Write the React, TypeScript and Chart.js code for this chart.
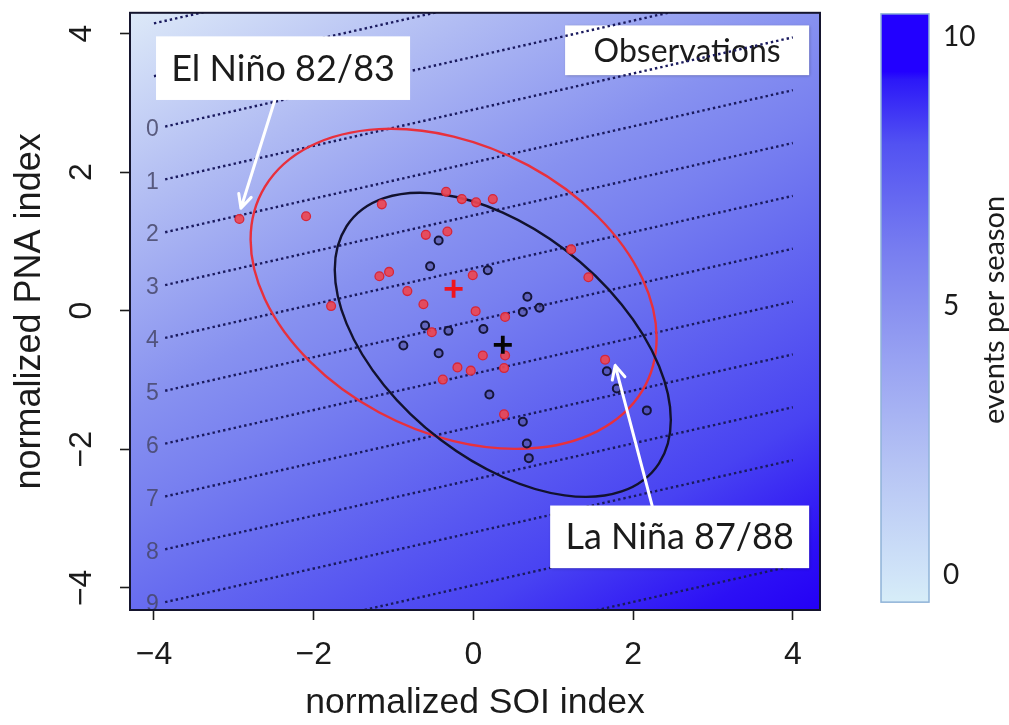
import React, { useEffect, useRef } from "react";
import { Chart, registerables } from "chart.js";

Chart.register(...registerables);

// ---------- axes ----------
const soiRange = [-4.3, 4.34];
const pnaRange = [-4.32, 4.3];
const soiTicks = [-4, -2, 0, 2, 4];
const soiTickLabels = ["−4", "−2", "0", "2", "4"];
const pnaTicks = [-4, -2, 0, 2, 4];
const pnaTickLabels = ["−4", "−2", "0", "2", "4"];
const soiTitle = "normalized SOI index";
const pnaTitle = "normalized PNA index";

// ---------- observed seasons (red group) ----------
const redSOI = [-2.93, -2.095, -1.147, -0.342, -0.145, 0.034, 0.243, -0.596, -0.326, -1.177, -1.056, -0.827, -0.626, -1.782, -0.008, 1.224, 1.44, 0.028, 0.397, -0.521, 0.118, 0.397, -0.2, -0.033, 0.384, -0.383, 0.384, 1.649];
const redPNA = [1.324, 1.363, 1.535, 1.717, 1.611, 1.564, 1.611, 1.095, 1.143, 0.498, 0.56, 0.283, 0.093, 0.067, 0.512, 0.885, 0.483, -0.007, -0.09, -0.311, -0.646, -0.646, -0.818, -0.865, -0.828, -0.994, -1.496, -0.707];

// ---------- observed seasons (black group) ----------
const blackSOI = [-0.435, -0.542, 0.18, 0.676, 0.827, 0.619, 0.125, -0.605, -0.313, -0.877, -0.435, 0.2, 0.619, 0.669, 0.694, 1.671, 1.796, 2.172];
const blackPNA = [1.014, 0.641, 0.584, 0.201, 0.043, -0.019, -0.265, -0.215, -0.291, -0.502, -0.613, -1.209, -1.603, -1.918, -2.128, -0.875, -1.123, -1.439];

// ---------- group means and spread ellipses ----------
const redMean = { soi: -0.248, pna: 0.316 };
const blackMean = { soi: 0.368, pna: -0.492 };
const redEllipse = { sdSOI: 2.542, sdPNA: 2.31, rho: -0.308 };
const blackEllipse = { sdSOI: 2.104, sdPNA: 2.195, rho: -0.494 };

// ---------- contour field: events per season ----------
const rateModel = { intercept: 4.805, soi: 0.342, pna: -1.311 };
const contourLevels = [-2, -1, 0, 1, 2, 3, 4, 5, 6, 7, 8, 9, 10, 11];
const labelledLevels = [0, 1, 2, 3, 4, 5, 6, 7, 8, 9];
const contourSoiStart = -4.0;
const contourSoiEnd = 4.0;
const labelledLineStart = -3.86;
const contourLabelSoi = -4.02;

// ---------- colour bar ----------
const colorbarTitle = "events per season";
const colorbarRange = [-0.646, 10.44];
const colorbarSpan = [-0.5, 10.42];
const colorbarTicks = [0, 5, 10];
const colorbarTickLabels = ["0", "5", "10"];
const colorbarLevels = [-0.6, 0, 2, 4, 5, 6, 8, 9.2, 9.35, 10.44];
const colorbarColors = ["#d8eff8", "#d0e4f8", "#b6c4f4", "#98a2f2", "#8890f0", "#787ef0", "#5252f2", "#2c18f8", "#2200ff", "#2200ff"];

// ---------- annotations ----------
const elNinoText = "El Niño 82/83";
const laNinaText = "La Niña 87/88";
const obsText = "Observations";
const elNinoBox = { soi: [-3.974, -0.793], pna: [3.96, 3.042] };
const obsBox = { soi: [1.148, 4.204], pna: [4.118, 3.4] };
const laNinaBox = { soi: [0.961, 4.204], pna: [-2.812, -3.716] };
const elNinoArrow = { from: [-2.486, 3.042], to: [-2.911, 1.478] };
const laNinaArrow = { from: [2.238, -2.812], to: [1.775, -0.789] };

// ---------- styles ----------
const AXIS_FONT = "'Liberation Sans', Arial, sans-serif";
const NOTE_FONT = "Lato, 'Open Sans', sans-serif";
const plotShadeTilt = 0.581;
const plotShadeStops: [number, string][] = [
  [0, "#dde9f8"],
  [0.2, "#b1bcf3"],
  [0.4, "#8791f0"],
  [0.5, "#7880f0"],
  [0.6, "#676cf0"],
  [0.8, "#4842f2"],
  [0.93, "#2c10f5"],
  [1, "#2400f5"],
];

function pnaOnLevel(level: number, soi: number) {
  return (level - rateModel.intercept - rateModel.soi * soi) / rateModel.pna;
}

function drawEllipse(ctx: CanvasRenderingContext2D, xs: any, ys: any, mean: any, e: any, color: string) {
  const px = xs.getPixelForValue(mean.soi);
  const py = ys.getPixelForValue(mean.pna);
  const kx = xs.getPixelForValue(1) - xs.getPixelForValue(0);
  const ky = ys.getPixelForValue(1) - ys.getPixelForValue(0);
  ctx.save();
  ctx.beginPath();
  ctx.save();
  ctx.transform(kx * e.sdSOI, ky * e.sdPNA * e.rho, 0, ky * e.sdPNA * Math.sqrt(1 - e.rho * e.rho), px, py);
  ctx.arc(0, 0, 1, 0, Math.PI * 2);
  ctx.restore();
  ctx.strokeStyle = color;
  ctx.lineWidth = 2.4;
  ctx.stroke();
  ctx.restore();
}

function drawNote(ctx: CanvasRenderingContext2D, xs: any, ys: any, box: any, text: string, size: number, shadow: boolean) {
  const x1 = xs.getPixelForValue(box.soi[0]);
  const x2 = xs.getPixelForValue(box.soi[1]);
  const y1 = ys.getPixelForValue(box.pna[0]);
  const y2 = ys.getPixelForValue(box.pna[1]);
  ctx.save();
  if (shadow) {
    ctx.shadowColor = "rgba(0,0,0,0.3)";
    ctx.shadowBlur = 3;
    ctx.shadowOffsetX = 1;
    ctx.shadowOffsetY = 1;
  }
  ctx.fillStyle = "#ffffff";
  ctx.fillRect(x1, y1, x2 - x1, y2 - y1);
  ctx.restore();
  ctx.save();
  ctx.fillStyle = "#1b1b1b";
  ctx.font = `${size}px ${NOTE_FONT}`;
  ctx.textAlign = "center";
  ctx.textBaseline = "middle";
  ctx.fillText(text, (x1 + x2) / 2, (y1 + y2) / 2 + 1);
  ctx.restore();
}

function drawArrow(ctx: CanvasRenderingContext2D, xs: any, ys: any, arrow: any) {
  const fx = xs.getPixelForValue(arrow.from[0]);
  const fy = ys.getPixelForValue(arrow.from[1]);
  const tx = xs.getPixelForValue(arrow.to[0]);
  const ty = ys.getPixelForValue(arrow.to[1]);
  const ang = Math.atan2(ty - fy, tx - fx);
  const head = 15;
  const spread = 0.45;
  ctx.save();
  ctx.strokeStyle = "#ffffff";
  ctx.lineWidth = 3;
  ctx.lineCap = "round";
  ctx.lineJoin = "round";
  ctx.beginPath();
  ctx.moveTo(fx, fy);
  ctx.lineTo(tx, ty);
  ctx.moveTo(tx - head * Math.cos(ang - spread), ty - head * Math.sin(ang - spread));
  ctx.lineTo(tx, ty);
  ctx.lineTo(tx - head * Math.cos(ang + spread), ty - head * Math.sin(ang + spread));
  ctx.stroke();
  ctx.restore();
}

const decorPlugin = {
  id: "decor",
  beforeDatasetsDraw(chart: any) {
    const { ctx, chartArea } = chart;
    const { left, top, right, bottom } = chartArea;
    const w = right - left;
    const h = bottom - top;
    const full = w * plotShadeTilt + h;
    const s = full / (plotShadeTilt * plotShadeTilt + 1);
    const g = ctx.createLinearGradient(left, top, left + plotShadeTilt * s, top + s);
    plotShadeStops.forEach(([p, c]) => g.addColorStop(p, c));
    ctx.save();
    ctx.fillStyle = g;
    ctx.fillRect(left, top, w, h);
    ctx.restore();
    const xs = chart.scales.x;
    const ys = chart.scales.y;
    drawNote(ctx, xs, ys, obsBox, obsText, 32, true);
  },
  beforeDatasetDraw(chart: any, args: any) {
    if (args.index !== 1) return;
    const { ctx } = chart;
    const xs = chart.scales.x;
    const ys = chart.scales.y;
    ctx.save();
    const { left, top, right, bottom } = chart.chartArea;
    ctx.beginPath();
    ctx.rect(left, top, right - left, bottom - top);
    ctx.clip();
    drawEllipse(ctx, xs, ys, redMean, redEllipse, "#e8303c");
    drawEllipse(ctx, xs, ys, blackMean, blackEllipse, "#12122e");
    ctx.restore();
  },
  afterDatasetsDraw(chart: any) {
    const { ctx, chartArea } = chart;
    const { left, top, right, bottom } = chartArea;
    const xs = chart.scales.x;
    const ys = chart.scales.y;
    // contour labels
    ctx.save();
    ctx.beginPath();
    ctx.rect(left, top, right - left, bottom - top);
    ctx.clip();
    ctx.font = `23px ${AXIS_FONT}`;
    ctx.fillStyle = "rgba(70,70,105,0.85)";
    ctx.textAlign = "center";
    ctx.textBaseline = "middle";
    labelledLevels.forEach((L) => {
      ctx.fillText(String(L), xs.getPixelForValue(contourLabelSoi), ys.getPixelForValue(pnaOnLevel(L, contourLabelSoi)));
    });
    ctx.restore();
    // frame
    ctx.save();
    ctx.strokeStyle = "#15152e";
    ctx.lineWidth = 2;
    ctx.strokeRect(left, top, right - left, bottom - top);
    ctx.restore();
    // notes
    drawNote(ctx, xs, ys, elNinoBox, elNinoText, 36, false);
    drawNote(ctx, xs, ys, laNinaBox, laNinaText, 36, true);
    drawArrow(ctx, xs, ys, elNinoArrow);
    drawArrow(ctx, xs, ys, laNinaArrow);
  },
  afterDraw(chart: any) {
    const { ctx, chartArea } = chart;
    const cb = chart.scales.cb;
    const x1 = chartArea.right + 61;
    const x2 = x1 + 48;
    const yTop = cb.getPixelForValue(colorbarSpan[1]);
    const yBot = cb.getPixelForValue(colorbarSpan[0]);
    const gy0 = cb.getPixelForValue(colorbarRange[0]);
    const gy1 = cb.getPixelForValue(colorbarRange[1]);
    const g = ctx.createLinearGradient(0, gy0, 0, gy1);
    const span = colorbarRange[1] - colorbarRange[0];
    colorbarLevels.forEach((v, i) => {
      const p = Math.min(1, Math.max(0, (v - colorbarRange[0]) / span));
      g.addColorStop(p, colorbarColors[i]);
    });
    ctx.save();
    ctx.fillStyle = g;
    ctx.fillRect(x1, yTop, x2 - x1, yBot - yTop);
    ctx.strokeStyle = "#8fb3d8";
    ctx.lineWidth = 1.5;
    ctx.strokeRect(x1, yTop, x2 - x1, yBot - yTop);
    ctx.fillStyle = "#1b1b1b";
    ctx.font = `28px ${NOTE_FONT}`;
    ctx.textAlign = "left";
    ctx.textBaseline = "middle";
    colorbarTicks.forEach((v, i) => {
      ctx.fillText(colorbarTickLabels[i], x2 + 14, cb.getPixelForValue(v));
    });
    ctx.translate(x2 + 66, (yTop + yBot) / 2 + 2);
    ctx.rotate(-Math.PI / 2);
    ctx.font = `29px ${NOTE_FONT}`;
    ctx.textAlign = "center";
    ctx.fillText(colorbarTitle, 0, 0);
    ctx.restore();
  },
};

export default function App() {
  const ref = useRef<HTMLCanvasElement>(null);
  useEffect(() => {
    if (!ref.current) return;
    const red = redSOI.map((x, i) => ({ x, y: redPNA[i] }));
    const black = blackSOI.map((x, i) => ({ x, y: blackPNA[i] }));
    const contours = contourLevels.map((L) => {
      const x0 = labelledLevels.includes(L) ? labelledLineStart : contourSoiStart;
      return {
        label: `level ${L}`,
        data: [
          { x: x0, y: pnaOnLevel(L, x0) },
          { x: contourSoiEnd, y: pnaOnLevel(L, contourSoiEnd) },
        ],
        showLine: true,
        pointRadius: 0,
        borderColor: "#1a1a5e",
        borderWidth: 2.4,
        borderDash: [2.4, 3],
        order: 3,
      };
    });
    const chart = new Chart(ref.current, {
      type: "scatter",
      data: {
        datasets: [
          {
            label: "red",
            data: red,
            pointRadius: 4.4,
            pointBackgroundColor: "rgba(236,70,82,0.92)",
            pointBorderColor: "#d62638",
            pointBorderWidth: 1.3,
            order: 1,
          },
          {
            label: "black",
            data: black,
            pointRadius: 4,
            pointBackgroundColor: "rgba(80,80,150,0.55)",
            pointBorderColor: "#15153a",
            pointBorderWidth: 2,
            order: 1,
          },
          {
            label: "red mean",
            data: [{ x: redMean.soi, y: redMean.pna }],
            pointStyle: "cross",
            pointRadius: 9,
            pointBorderColor: "#f0141e",
            pointBorderWidth: 3.8,
            order: 0,
          },
          {
            label: "black mean",
            data: [{ x: blackMean.soi, y: blackMean.pna }],
            pointStyle: "cross",
            pointRadius: 9,
            pointBorderColor: "#050505",
            pointBorderWidth: 3.8,
            order: 0,
          },
          ...contours,
        ] as any,
      },
      options: {
        animation: false,
        responsive: false,
        devicePixelRatio: 1,
        events: [],
        layout: { padding: { left: 0, top: 9, right: 189, bottom: 0 } },
        plugins: { legend: { display: false }, tooltip: { enabled: false } },
        scales: {
          x: {
            type: "linear",
            position: "bottom",
            min: soiRange[0],
            max: soiRange[1],
            afterBuildTicks: (s: any) => {
              s.ticks = soiTicks.map((v) => ({ value: v }));
            },
            afterFit: (s: any) => {
              s.height = 115;
              s.paddingLeft = 0;
              s.paddingRight = 0;
            },
            ticks: {
              autoSkip: false,
              maxRotation: 0,
              padding: 16,
              color: "#1b1b1b",
              font: { family: AXIS_FONT, size: 32 },
              callback: (v: any) => soiTickLabels[soiTicks.indexOf(Number(v))] ?? "",
            },
            grid: { drawOnChartArea: false, drawTicks: true, tickLength: 10, tickColor: "#1b1b1b", tickWidth: 1.6 },
            border: { display: false },
            title: {
              display: true,
              text: soiTitle,
              color: "#1b1b1b",
              font: { family: AXIS_FONT, size: 35.5 },
              padding: { top: 0, bottom: 0 },
            },
          },
          y: {
            type: "linear",
            position: "left",
            min: pnaRange[0],
            max: pnaRange[1],
            afterBuildTicks: (s: any) => {
              s.ticks = pnaTicks.map((v) => ({ value: v }));
            },
            afterFit: (s: any) => {
              s.width = 130;
              s.paddingTop = 0;
              s.paddingBottom = 0;
            },
            ticks: {
              autoSkip: false,
              minRotation: 90,
              maxRotation: 90,
              crossAlign: "center",
              padding: 20,
              color: "#1b1b1b",
              font: { family: AXIS_FONT, size: 32 },
              callback: (v: any) => pnaTickLabels[pnaTicks.indexOf(Number(v))] ?? "",
            },
            grid: { drawOnChartArea: false, drawTicks: true, tickLength: 10, tickColor: "#1b1b1b", tickWidth: 1.6 },
            border: { display: false },
            title: {
              display: true,
              text: pnaTitle,
              color: "#1b1b1b",
              font: { family: AXIS_FONT, size: 36 },
              padding: { top: 8, bottom: 0 },
            },
          },
          cb: {
            type: "linear",
            position: "right",
            display: false,
            min: colorbarRange[0],
            max: colorbarRange[1],
          },
        } as any,
      },
      plugins: [decorPlugin as any],
    });
    return () => chart.destroy();
  }, []);
  return (
    <div style={{ position: "absolute", left: 0, top: 0, width: 1009, height: 725, background: "#ffffff" }}>
      <canvas ref={ref} width={1009} height={725} style={{ display: "block", width: 1009, height: 725 }} />
    </div>
  );
}
